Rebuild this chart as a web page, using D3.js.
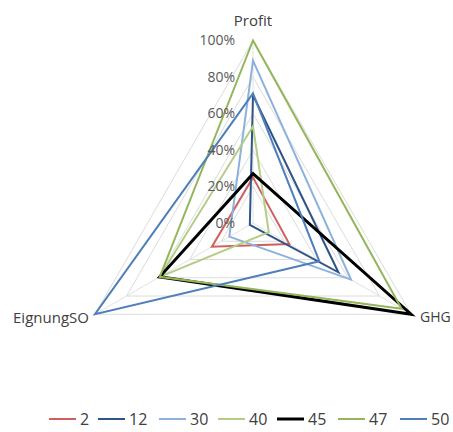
<!DOCTYPE html>
<html>
<head>
<meta charset="utf-8">
<script src="https://cdn.jsdelivr.net/npm/d3@7/dist/d3.min.js"></script>
<style>
  html, body { margin: 0; padding: 0; background: #fff; }
  svg { display: block; }
  text { font-family: "Open Sans", "Liberation Sans", sans-serif; fill: #404040; }
</style>
</head>
<body>
<svg id="chart" width="453" height="432"></svg>
<script>
// Radar axes (clockwise from top)
const categories = ["Profit", "GHG", "EignungSO"];

// Series names and their values per axis (Profit, GHG, EignungSO)
const seriesNames = ["2", "12", "30", "40", "45", "47", "50"];
const values2  = [0.25, 0.23, 0.26];
const values12 = [0.70, 0.54, 0.02];
const values30 = [0.89, 0.62, 0.15];
const values40 = [0.53, 0.10, 0.59];
const values45 = [0.27, 1.00, 0.59];
const values47 = [1.00, 0.94, 0.59];
const values50 = [0.71, 0.42, 1.00];
const seriesValues = [values2, values12, values30, values40, values45, values47, values50];

// Radial tick values and labels
const tickValues = [0, 0.2, 0.4, 0.6, 0.8, 1.0];
const tickLabels = ["0%", "20%", "40%", "60%", "80%", "100%"];

const colors = ["#D0605D", "#2F5487", "#8DB1DD", "#B4CD84", "#000000", "#93B65A", "#4F7FBA"];
const widths = [2, 2, 2, 2, 3, 2, 2];

const svg = d3.select("#chart");
const cx = 253, cy = 223, R = 182.5;

const r = d3.scaleLinear().domain([0, 1]).range([0, R]);
const angle = d3.scalePoint().domain(categories).range([0, 2 * Math.PI * 2 / 3]);
// angle measured clockwise from the upward direction
const pt = (cat, v) => {
  const a = angle(cat);
  return [cx + r(v) * Math.sin(a), cy - r(v) * Math.cos(a)];
};

const g = svg.append("g");

// Grid triangles
tickValues.filter(t => t > 0).forEach(t => {
  g.append("polygon")
    .attr("points", categories.map(c => pt(c, t).join(",")).join(" "))
    .attr("fill", "none")
    .attr("stroke", "#DCDCDC")
    .attr("stroke-width", 1);
});

// Spokes
categories.forEach(c => {
  const [x, y] = pt(c, 1);
  g.append("line")
    .attr("x1", cx).attr("y1", cy).attr("x2", x).attr("y2", y)
    .attr("stroke", "#E2E2E2").attr("stroke-width", 1);
});

// Series polygons
const line = d3.line().curve(d3.curveLinearClosed);
seriesValues.forEach((vals, i) => {
  g.append("path")
    .attr("d", line(categories.map((c, k) => pt(c, vals[k]))))
    .attr("fill", "none")
    .attr("stroke", colors[i])
    .attr("stroke-width", widths[i])
    .attr("stroke-linejoin", "miter");
});

// Radial tick labels along the Profit axis
tickValues.forEach((t, i) => {
  g.append("text")
    .attr("x", cx - 18)
    .attr("y", cy - r(t))
    .attr("dy", "0.35em")
    .attr("text-anchor", "end")
    .style("font-size", "14px")
    .style("fill", "#595959")
    .text(tickLabels[i]);
});

// Axis labels
const [px, py] = pt("Profit", 1);
g.append("text").attr("x", px).attr("y", py - 20).attr("dy", "0.35em")
  .attr("text-anchor", "middle").style("font-size", "15px").text("Profit");
const [gx, gy] = pt("GHG", 1);
g.append("text").attr("x", gx + 9).attr("y", gy + 3).attr("dy", "0.35em")
  .attr("text-anchor", "start").style("font-size", "14px").text("GHG");
const [ex, ey] = pt("EignungSO", 1);
g.append("text").attr("x", ex - 6).attr("y", ey + 3).attr("dy", "0.35em")
  .attr("text-anchor", "end").style("font-size", "15px").text("EignungSO");

// Legend
const legendX = [49, 98, 159, 218, 277, 338, 400];
const legendY = 419;
const lg = svg.append("g");
seriesNames.forEach((name, i) => {
  lg.append("line")
    .attr("x1", legendX[i]).attr("x2", legendX[i] + 27)
    .attr("y1", legendY).attr("y2", legendY)
    .attr("stroke", colors[i]).attr("stroke-width", widths[i]);
  lg.append("text")
    .attr("x", legendX[i] + 31).attr("y", legendY)
    .attr("dy", "0.35em")
    .style("font-size", "16px")
    .text(name);
});
</script>
</body>
</html>
